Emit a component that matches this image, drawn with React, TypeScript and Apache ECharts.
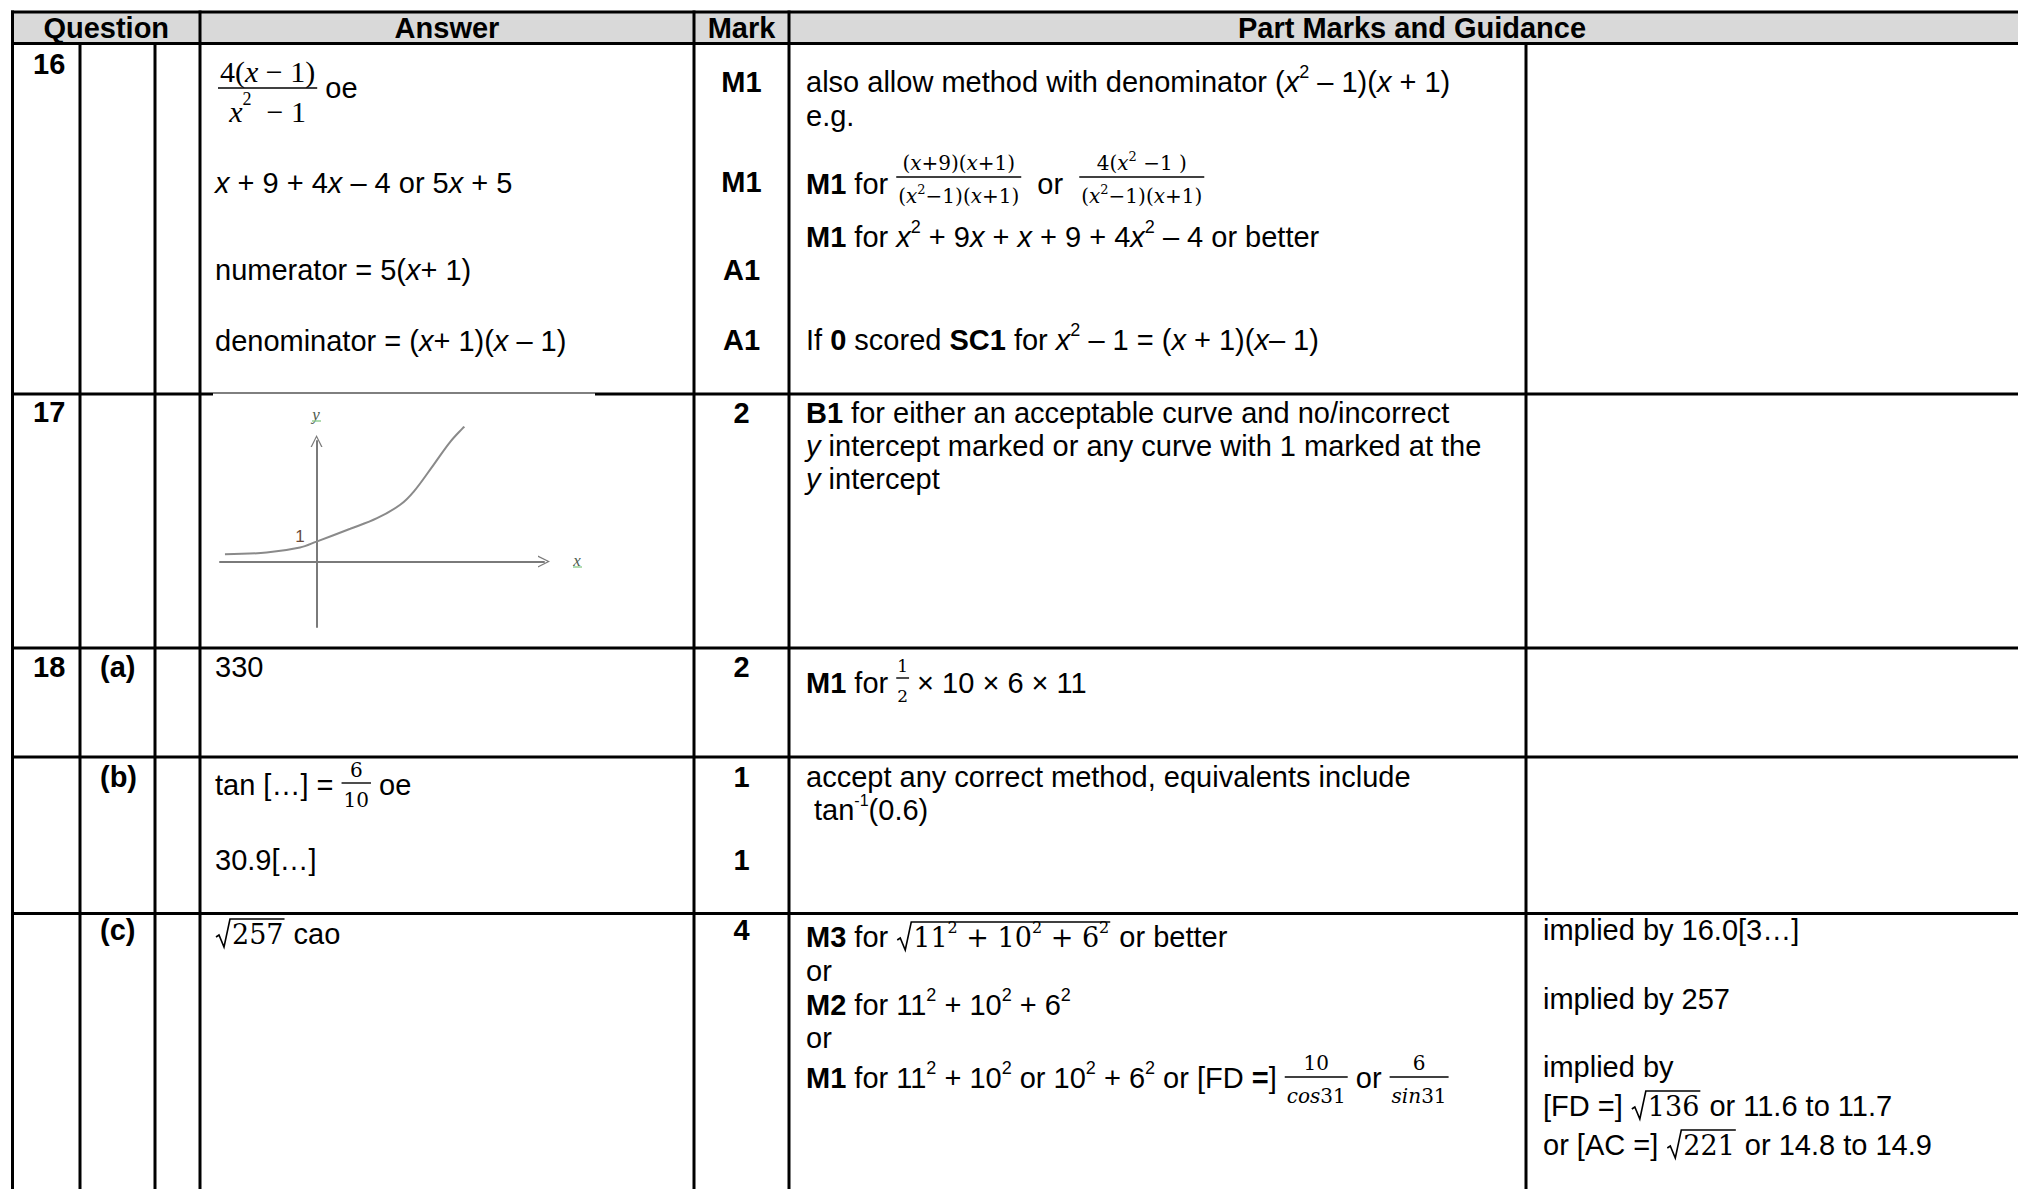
import React, { useEffect, useRef } from 'react';
import * as echarts from 'echarts';

// ---------------- data ----------------
const HEADERS = ['Question', 'Answer', 'Mark', 'Part Marks and Guidance'];
const QUESTION_NUMBERS = ['16', '17', '18'];
const PART_LABELS = ['(a)', '(b)', '(c)'];
const MARKS_Q16 = ['M1', 'M1', 'A1', 'A1'];
const MARKS_Q17 = ['2'];
const MARKS_Q18 = ['2', '1', '1', '4'];
const SIMPLE_ANSWERS = ['330', '30.9[…]'];
const GUIDANCE_E = ['implied by 16.0[3…]', 'implied by 257', 'implied by'];
// sketch of y = a^x style curve in the answer to question 17 (sketch units)
const SKETCH_X = [-2.77, -1.51, -0.5, 0, 1.02, 1.83, 2.53, 2.94, 3.54, 4.05, 4.47];
const SKETCH_Y = [0.37, 0.45, 0.7, 1.0, 1.64, 2.17, 2.84, 3.5, 4.84, 6.0, 6.75];
const SKETCH_INTERCEPT = '1';

// ---------------- layout ----------------
const COLS = { left: 12.5, q1: 80, q2: 155, ans: 200, mark: 694, guide: 789, extra: 1526, right: 2035 };
const ROWS = { top: 12, head: 43.5, r17: 394, r18a: 648, r18b: 757, r18c: 913.5, bottom: 1189 };

const SANS = '"Liberation Sans", Arial, sans-serif';
const R = `29px ${SANS}`;
const B = `bold 29px ${SANS}`;
const I = `italic 29px ${SANS}`;
const SUPF = `18px ${SANS}`;
const SUPS = `16px ${SANS}`;
const DS = '"DejaVu Serif", serif';
const MF = `20px ${DS}`;
const MFI = `italic 20px ${DS}`;
const MSUP = `13px ${DS}`;
const MB = `27px ${DS}`;
const MBSUP = `16px ${DS}`;
const HALF = `17px ${DS}`;
const TS = '"Liberation Serif", "Times New Roman", serif';
const TF = `30px ${TS}`;
const TFI = `italic 30px ${TS}`;
const TSUP = `18px ${TS}`;

type Seg =
  | { k: 't'; s: string; f: string; dy: number }
  | { k: 'frac'; num: Seg[]; den: Seg[]; barDy: number; numDy: number; denDy: number; pad: number }
  | { k: 'sqrt'; body: Seg[] };

const t = (s: string, f: string = R, dy = 0): Seg => ({ k: 't', s, f, dy });
const b = (s: string) => t(s, B);
const i = (s: string) => t(s, I);
const sup = (s: string) => t(s, SUPF, -10);
const frac = (num: Seg[], den: Seg[], barDy: number, numDy: number, denDy: number, pad = 2): Seg => ({
  k: 'frac', num, den, barDy, numDy, denDy, pad,
});
const sqrt = (body: Seg[]): Seg => ({ k: 'sqrt', body });

let ctx: CanvasRenderingContext2D | null = null;
function measure(s: string, f: string): number {
  if (!ctx) ctx = document.createElement('canvas').getContext('2d');
  ctx!.font = f;
  return ctx!.measureText(s).width;
}
function segW(s: Seg): number {
  if (s.k === 't') return measure(s.s, s.f);
  if (s.k === 'frac') return Math.max(listW(s.num), listW(s.den)) + 2 * s.pad;
  return 17 + listW(s.body) + 2;
}
function listW(l: Seg[]): number {
  return l.reduce((a, s) => a + segW(s), 0);
}

function txt(x: number, y: number, s: string, f: string, align = 'left', fill = '#000'): any {
  return {
    type: 'text',
    silent: true,
    style: { text: s, x, y, font: f, fill, textAlign: align, align, textVerticalAlign: 'middle', verticalAlign: 'middle' },
  };
}
function ln(x1: number, y1: number, x2: number, y2: number, w = 3, color = '#000'): any {
  return { type: 'line', silent: true, shape: { x1, y1, x2, y2 }, style: { stroke: color, lineWidth: w } };
}

function flow(x: number, y: number, l: Seg[], out: any[]): number {
  for (const s of l) {
    if (s.k === 't') {
      out.push(txt(x, y + s.dy, s.s, s.f));
      x += measure(s.s, s.f);
    } else if (s.k === 'frac') {
      const w = segW(s);
      const by = y + s.barDy;
      out.push(ln(x, by, x + w, by, 1.4));
      flow(x + (w - listW(s.num)) / 2, by + s.numDy, s.num, out);
      flow(x + (w - listW(s.den)) / 2, by + s.denDy, s.den, out);
      x += w;
    } else {
      const bw = listW(s.body);
      out.push({
        type: 'polyline',
        silent: true,
        shape: { points: [[x + 1, y + 3], [x + 4, y + 1], [x + 9, y + 13], [x + 15, y - 15], [x + 17 + bw + 1, y - 15]] },
        style: { stroke: '#000', lineWidth: 1.6, fill: null },
      });
      flow(x + 17, y, s.body, out);
      x += 17 + bw + 2;
    }
  }
  return x;
}

function buildGraphics(): any[] {
  const out: any[] = [];
  // header background
  out.push({
    type: 'rect', silent: true,
    shape: { x: COLS.left, y: ROWS.top, width: COLS.right - COLS.left, height: ROWS.head - ROWS.top },
    style: { fill: '#d9d9d9' },
  });
  // horizontal rules
  [ROWS.top, ROWS.head, ROWS.r17, ROWS.r18a, ROWS.r18b, ROWS.r18c].forEach((y) =>
    out.push(ln(COLS.left - 1.5, y, COLS.right, y)));
  // vertical rules
  [COLS.left, COLS.ans, COLS.mark, COLS.guide, COLS.right].forEach((x) => out.push(ln(x, ROWS.top - 1.5, x, ROWS.bottom)));
  [COLS.q1, COLS.q2, COLS.extra].forEach((x) => out.push(ln(x, ROWS.head, x, ROWS.bottom)));
  // white background of the pasted sketch covering part of the rule
  out.push({ type: 'rect', silent: true, z: 50, shape: { x: 213, y: 393.6, width: 382, height: 2.4 }, style: { fill: '#fff' } });

  // headers
  const hy = 28;
  out.push(txt((COLS.left + COLS.ans) / 2, hy, HEADERS[0], B, 'center'));
  out.push(txt((COLS.ans + COLS.mark) / 2, hy, HEADERS[1], B, 'center'));
  out.push(txt((COLS.mark + COLS.guide) / 2, hy, HEADERS[2], B, 'center'));
  out.push(txt((COLS.guide + COLS.right) / 2, hy, HEADERS[3], B, 'center'));

  // question numbers and parts
  const qx = 33;
  out.push(txt(qx, 64, QUESTION_NUMBERS[0], B));
  out.push(txt(qx, 412, QUESTION_NUMBERS[1], B));
  out.push(txt(qx, 667, QUESTION_NUMBERS[2], B));
  const px = 100;
  out.push(txt(px, 667, PART_LABELS[0], B));
  out.push(txt(px, 777, PART_LABELS[1], B));
  out.push(txt(px, 930, PART_LABELS[2], B));

  // marks
  const mx = (COLS.mark + COLS.guide) / 2;
  [82, 182, 270, 340].forEach((y, k) => out.push(txt(mx, y, MARKS_Q16[k], B, 'center')));
  out.push(txt(mx, 413, MARKS_Q17[0], B, 'center'));
  [667, 777, 860, 930].forEach((y, k) => out.push(txt(mx, y, MARKS_Q18[k], B, 'center')));

  // answers column
  const ax = 215;
  flow(218, 88, [
    frac([t('4(', TF), t('x', TFI), t(' − 1)', TF)], [t('x', TFI), t('2', TSUP, -12), t('  − 1', TF)], 0, -17, 23, 2),
    t(' oe'),
  ], out);
  flow(ax, 183, [i('x'), t(' + 9 + 4'), i('x'), t(' – 4 or 5'), i('x'), t(' + 5')], out);
  flow(ax, 270, [t('numerator = 5('), i('x'), t('+ 1)')], out);
  flow(ax, 341, [t('denominator = ('), i('x'), t('+ 1)('), i('x'), t(' – 1)')], out);
  out.push(txt(ax, 667, SIMPLE_ANSWERS[0], R));
  flow(ax, 785, [
    t('tan […] = '),
    frac([t('6', MF)], [t('10', MF)], -2, -13, 17, 2),
    t(' oe'),
  ], out);
  out.push(txt(ax, 860, SIMPLE_ANSWERS[1], R));
  flow(ax, 934, [sqrt([t('257', MB)]), t(' cao')], out);

  // guidance column
  const gx = 806;
  flow(gx, 82, [t('also allow method with denominator ('), i('x'), sup('2'), t(' – 1)('), i('x'), t(' + 1)')], out);
  out.push(txt(gx, 116, 'e.g.', R));
  const denA = [t('(', MF), t('x', MFI), t('2', MSUP, -7), t('−1)(', MF), t('x', MFI), t('+1)', MF)];
  flow(gx, 184, [
    b('M1'), t(' for '),
    frac([t('(', MF), t('x', MFI), t('+9)(', MF), t('x', MFI), t('+1)', MF)], denA, -7, -14, 19, 2),
    t('  or  '),
    frac([t('4(', MF), t('x', MFI), t('2', MSUP, -7), t(' −1 )', MF)], denA, -7, -14, 19, 2),
  ], out);
  flow(gx, 237, [b('M1'), t(' for '), i('x'), sup('2'), t(' + 9'), i('x'), t(' + '), i('x'), t(' + 9 + 4'), i('x'), sup('2'), t(' – 4 or better')], out);
  flow(gx, 340, [t('If '), b('0'), t(' scored '), b('SC1'), t(' for '), i('x'), sup('2'), t(' – 1 = ('), i('x'), t(' + 1)('), i('x'), t('– 1)')], out);

  flow(gx, 413, [b('B1'), t(' for either an acceptable curve and no/incorrect')], out);
  flow(gx, 446, [i('y'), t(' intercept marked or any curve with 1 marked at the')], out);
  flow(gx, 479, [i('y'), t(' intercept')], out);

  flow(gx, 683, [
    b('M1'), t(' for '),
    frac([t('1', HALF)], [t('2', HALF)], -5, -12, 18, 1),
    t(' × 10 × 6 × 11'),
  ], out);

  out.push(txt(gx, 777, 'accept any correct method, equivalents include', R));
  flow(gx, 810, [t(' tan'), t('-1', SUPS, -10), t('(0.6)')], out);

  flow(gx, 937, [b('M3'), t(' for '), sqrt([t('11', MB), t('2', MBSUP, -10), t(' + 10', MB), t('2', MBSUP, -10), t(' + 6', MB), t('2', MBSUP, -10)]), t(' or better')], out);
  out.push(txt(gx, 971, 'or', R));
  flow(gx, 1005, [b('M2'), t(' for 11'), sup('2'), t(' + 10'), sup('2'), t(' + 6'), sup('2')], out);
  out.push(txt(gx, 1038, 'or', R));
  flow(gx, 1078, [
    b('M1'), t(' for 11'), sup('2'), t(' + 10'), sup('2'), t(' or 10'), sup('2'), t(' + 6'), sup('2'),
    t(' or [FD '), b('='), t('] '),
    frac([t('10', MF)], [t('cos', MFI), t('31', MF)], -1, -14, 19, 2),
    t(' or '),
    frac([t('6', MF)], [t('sin', MFI), t('31', MF)], -1, -14, 19, 2),
  ], out);

  // extra guidance column
  const ex = 1543;
  out.push(txt(ex, 930, GUIDANCE_E[0], R));
  out.push(txt(ex, 999, GUIDANCE_E[1], R));
  out.push(txt(ex, 1067, GUIDANCE_E[2], R));
  flow(ex, 1106, [t('[FD =] '), sqrt([t('136', MB)]), t(' or 11.6 to 11.7')], out);
  flow(ex, 1145, [t('or [AC =] '), sqrt([t('221', MB)]), t(' or 14.8 to 14.9')], out);

  // sketch labels
  out.push(txt(316, 414, 'y', `italic 17px ${TS}`, 'center', '#4d5a4d'));
  out.push(ln(312, 421, 321, 421, 1.2, '#7cc47c'));
  out.push(txt(577, 560, 'x', `italic 17px ${TS}`, 'center', '#4d5a4d'));
  out.push(ln(573, 567, 582, 567, 1.2, '#7cc47c'));
  out.push(txt(300, 536, SKETCH_INTERCEPT, `17px ${SANS}`, 'center', '#6b4a3a'));
  return out;
}

const ARROW = 'path://M0,12 L6,0 L12,12 L10.6,12 L6,2.6 L1.4,12 Z';

export default function App() {
  const ref = useRef<HTMLDivElement>(null);
  useEffect(() => {
    document.body.style.margin = '0';
    const chart = echarts.init(ref.current!, undefined, { renderer: 'svg' });
    const axisCommon = {
      type: 'value' as const,
      axisTick: { show: false },
      axisLabel: { show: false },
      splitLine: { show: false },
      axisLine: {
        show: true,
        onZero: true,
        symbol: ['none', ARROW],
        symbolSize: [12, 12],
        lineStyle: { color: '#7a7a7a', width: 2 },
      },
    };
    chart.setOption({
      animation: false,
      backgroundColor: '#fff',
      grid: { left: 220, top: 441, width: 324, height: 186, containLabel: false },
      xAxis: { ...axisCommon, min: -2.92, max: 6.88 },
      yAxis: { ...axisCommon, min: -3.27, max: 6.03 },
      series: [
        {
          type: 'line',
          data: SKETCH_X.map((x, k) => [x, SKETCH_Y[k]]),
          smooth: 0.35,
          showSymbol: false,
          clip: false,
          lineStyle: { color: '#8a8a8a', width: 2 },
          silent: true,
        },
      ],
      graphic: { elements: buildGraphics() },
    });
    return () => chart.dispose();
  }, []);
  return <div ref={ref} style={{ position: 'absolute', left: 0, top: 0, width: 2018, height: 1189 }} />;
}
